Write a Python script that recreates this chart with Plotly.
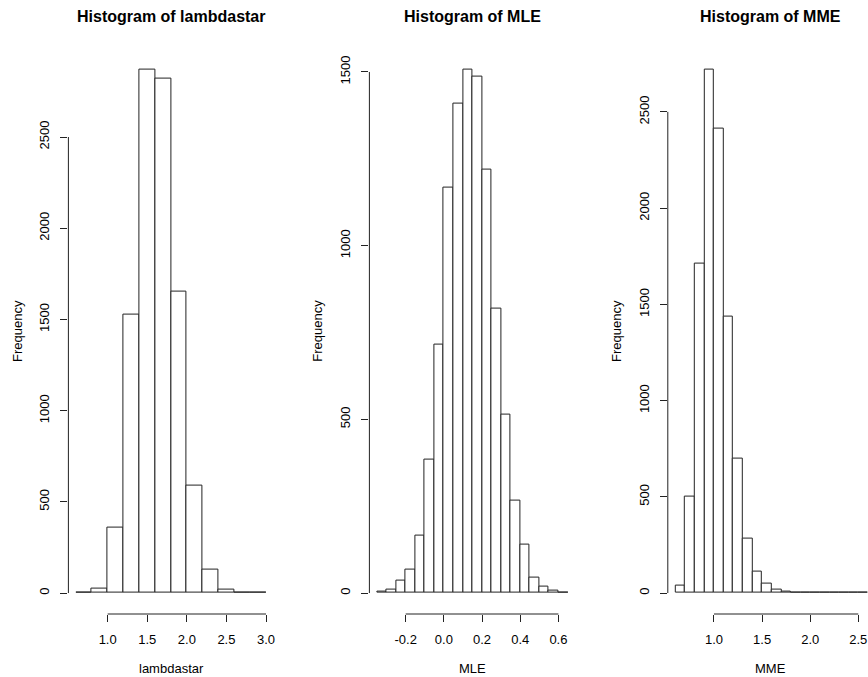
import numpy as np
import plotly.graph_objects as go

# ---------------- data ----------------
lambdastar_breaks = [0.6, 0.8, 1.0, 1.2, 1.4, 1.6, 1.8, 2.0, 2.2, 2.4, 2.6, 2.8, 3.0]
lambdastar_counts = [4, 27, 360, 1525, 2870, 2818, 1650, 590, 128, 19, 1, 3]

mle_breaks = [-0.35, -0.30, -0.25, -0.20, -0.15, -0.10, -0.05, 0.00, 0.05, 0.10, 0.15,
              0.20, 0.25, 0.30, 0.35, 0.40, 0.45, 0.50, 0.55, 0.60, 0.65]
mle_counts = [5, 10, 37, 67, 165, 385, 715, 1168, 1410, 1507, 1487,
              1220, 820, 515, 265, 140, 45, 18, 7, 2]

mme_breaks = [0.6, 0.7, 0.8, 0.9, 1.0, 1.1, 1.2, 1.3, 1.4, 1.5, 1.6, 1.7, 1.8, 1.9,
              2.0, 2.1, 2.2, 2.3, 2.4, 2.5, 2.6]
mme_counts = [40, 500, 1710, 2720, 2415, 1435, 700, 285, 109, 48, 19, 10, 5, 5,
              3, 2, 1, 1, 2, 1]

lambdastar_xticks = [1.0, 1.5, 2.0, 2.5, 3.0]
lambdastar_xlabels = ["1.0", "1.5", "2.0", "2.5", "3.0"]
lambdastar_yticks = [0, 500, 1000, 1500, 2000, 2500]
mle_xticks = [-0.2, 0.0, 0.2, 0.4, 0.6]
mle_xlabels = ["-0.2", "0.0", "0.2", "0.4", "0.6"]
mle_yticks = [0, 500, 1000, 1500]
mme_xticks = [1.0, 1.5, 2.0, 2.5]
mme_xlabels = ["1.0", "1.5", "2.0", "2.5"]
mme_yticks = [0, 500, 1000, 1500, 2000, 2500]

titles = ["Histogram of lambdastar", "Histogram of MLE", "Histogram of MME"]
xtitles = ["lambdastar", "MLE", "MME"]

# ---------------- layout geometry ----------------
W, H = 868, 677
FONT = "Liberation Sans, Arial, Helvetica, sans-serif"
ydom = [1 - 614 / H, 1 - 48.6 / H]
panels = [
    dict(breaks=lambdastar_breaks, counts=lambdastar_counts, xt=lambdastar_xticks,
         xl=lambdastar_xlabels, yt=lambdastar_yticks, dom=[68.4 / W, 273.6 / W],
         xr=[0.504, 3.096]),
    dict(breaks=mle_breaks, counts=mle_counts, xt=mle_xticks, xl=mle_xlabels,
         yt=mle_yticks, dom=[369.4 / W, 575.6 / W], xr=[-0.39, 0.69]),
    dict(breaks=mme_breaks, counts=mme_counts, xt=mme_xticks, xl=mme_xlabels,
         yt=mme_yticks, dom=[667.8 / W, 1.0], xr=[0.52, 0.52 + (W - 667.8) / 96.2]),
]

fig = go.Figure()
shapes = []
annotations = []
for i, p in enumerate(panels):
    n = i + 1
    xa = "x" if n == 1 else f"x{n}"
    ya = "y" if n == 1 else f"y{n}"
    b = np.array(p["breaks"])
    centers = (b[:-1] + b[1:]) / 2
    widths = np.diff(b)
    fig.add_trace(go.Bar(
        x=centers, y=p["counts"], width=widths,
        marker=dict(color="white", line=dict(color="#222222", width=1)),
        xaxis=xa, yaxis=ya, showlegend=False, hoverinfo="x+y",
    ))
    ymax = max(p["counts"])
    axkw = dict(showgrid=False, zeroline=False, showline=False, ticks="outside",
                ticklen=7, tickwidth=1, tickcolor="#222222",
                tickfont=dict(family=FONT, size=13, color="black"))
    fig.layout[f"xaxis{'' if n == 1 else n}"] = dict(
        domain=p["dom"], range=p["xr"], anchor=ya, tickvals=p["xt"], ticktext=p["xl"],
        ticklabelstandoff=6, **axkw)
    fig.layout[f"yaxis{'' if n == 1 else n}"] = dict(
        domain=ydom, range=[-0.04 * ymax, 1.04 * ymax], anchor=xa,
        tickvals=p["yt"], ticktext=[str(v) for v in p["yt"]], tickangle=-90,
        ticklabelstandoff=6, **axkw)
    # R-style axis lines spanning first to last tick
    shapes.append(dict(type="line", xref=xa, yref=f"{ya} domain", x0=p["xt"][0],
                       x1=p["xt"][-1], y0=0, y1=0, line=dict(color="#222222", width=1)))
    shapes.append(dict(type="line", xref=f"{xa} domain", yref=ya, x0=0, x1=0,
                       y0=p["yt"][0], y1=p["yt"][-1], line=dict(color="#222222", width=1)))
    cx = (p["dom"][0] * W + (p["dom"][0] * W + 206)) / 2 / W
    annotations.append(dict(text=f"<b>{titles[i]}</b>", x=cx, y=1 - 17 / H, xref="paper",
                            yref="paper", showarrow=False, xanchor="center", yanchor="middle",
                            font=dict(family=FONT, size=16, color="black")))
    annotations.append(dict(text=xtitles[i], x=cx, y=1 - 668 / H, xref="paper",
                            yref="paper", showarrow=False, xanchor="center", yanchor="middle",
                            font=dict(family=FONT, size=13, color="black")))
    fx = [17, 316.7, 616][i]
    annotations.append(dict(text="Frequency", x=fx / W, y=1 - 331 / H, xref="paper",
                            yref="paper", showarrow=False, xanchor="center", yanchor="middle",
                            textangle=-90, font=dict(family=FONT, size=13, color="black")))

fig.update_layout(
    width=W, height=H, margin=dict(l=0, r=0, t=0, b=0),
    paper_bgcolor="white", plot_bgcolor="white",
    shapes=shapes, annotations=annotations, bargap=0,
)
fig.write_html("out.html", config={"displayModeBar": False},
               post_script="document.body.style.margin='0';document.body.style.overflow='hidden';")
